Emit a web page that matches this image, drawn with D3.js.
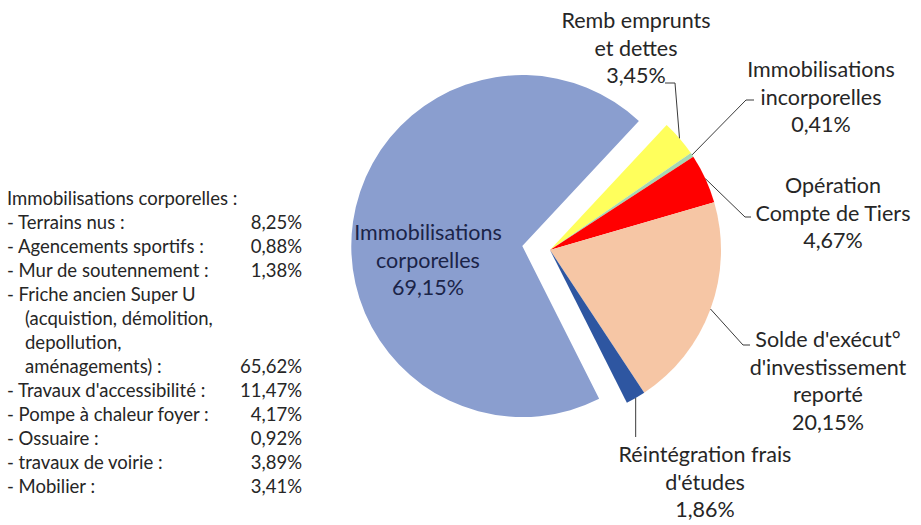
<!DOCTYPE html>
<html><head><meta charset="utf-8">
<script src="https://cdn.jsdelivr.net/npm/d3@7"></script>
<style>
html,body{margin:0;padding:0;background:#fff;}
svg{display:block;font-family:Lato,"Open Sans","DejaVu Sans",sans-serif;}
</style>
</head><body>
<svg id="chart" width="921" height="525"></svg>
<script>
// ---- data ----
const categories = ["Remb emprunts et dettes","Immobilisations incorporelles","Opération Compte de Tiers","Solde d'exécut° d'investissement reporté","Réintégration frais d'études","Immobilisations corporelles"];
const values = [3.45, 0.41, 4.67, 20.15, 1.86, 69.15];
const labelLines = [
  ["Remb emprunts","et dettes"],
  ["Immobilisations","incorporelles"],
  ["Opération","Compte de Tiers"],
  ["Solde d'exécut°","d'investissement","reporté"],
  ["Réintégration frais","d'études"],
  ["Immobilisations","corporelles"]
];
const colors = ["#FFFF5C","#A6D8B2","#FF0000","#F6C6A5","#2E56A1","#8A9ECF"];

const detailTitle = "Immobilisations corporelles :";
const detailLabels = ["- Terrains nus :","- Agencements sportifs :","- Mur de soutennement :","- Friche ancien Super U","(acquistion, démolition,","depollution,","aménagements) :","- Travaux d'accessibilité :","- Pompe à chaleur foyer :","- Ossuaire :","- travaux de voirie :","- Mobilier :"];
const detailValues = ["8,25%","0,88%","1,38%","","","","65,62%","11,47%","4,17%","0,92%","3,89%","3,41%"];
const detailIndent = [false,false,false,false,true,true,true,false,false,false,false,false];

// ---- layout ----
const cx = 550, cy = 250, R = 171, explode = 28;
const startDeg = 43;
const lineH = 27.5;
// label anchor (center x, first baseline y) and leader elbow
const labelPos = [
  {x:636, y:28,  elbow:[675,83],  tick:[665,83]},
  {x:821, y:77,  elbow:[746,100], tick:[754,100]},
  {x:833, y:193, elbow:[745,217], tick:[751,217]},
  {x:828, y:347, elbow:[743,345], tick:[750,345]},
  {x:705, y:462, elbow:null,      tick:null, endY:437},
  {x:428, y:240, inside:true}
];

const fmt = v => d3.format(".2f")(v).replace(".", ",") + "%";

const svg = d3.select("#chart");
const g = svg.append("g").attr("transform", `translate(${cx},${cy})`);

const start = startDeg * Math.PI / 180;
const pie = d3.pie().sort(null).startAngle(start).endAngle(start + 2*Math.PI);
const arcs = pie(values);
const arc = d3.arc().innerRadius(0).outerRadius(R);
const bigIndex = values.indexOf(d3.max(values));

g.selectAll("path.slice").data(arcs).join("path")
  .attr("class","slice")
  .attr("fill",(d,i)=>colors[i])
  .attr("d",arc)
  .attr("transform",(d,i)=>{
    if(i!==bigIndex) return null;
    const a = (d.startAngle+d.endAngle)/2;
    return `translate(${Math.sin(a)*explode},${-Math.cos(a)*explode})`;
  });

// leaders
const leaderG = svg.append("g").attr("fill","none").attr("stroke","#3a3a3a").attr("stroke-width",1);
arcs.forEach((d,i)=>{
  const L = labelPos[i];
  if(L.inside) return;
  const a = (d.startAngle+d.endAngle)/2;
  const px = cx + Math.sin(a)*R, py = cy - Math.cos(a)*R;
  let pts;
  if(L.elbow) pts = [[px,py], L.elbow, L.tick];
  else pts = [[px,py],[px,L.endY]];
  leaderG.append("path").attr("d", d3.line()(pts));
});

// labels
arcs.forEach((d,i)=>{
  const L = labelPos[i];
  const lines = labelLines[i].concat([fmt(values[i])]);
  const t = svg.append("text")
    .attr("text-anchor","middle")
    .attr("font-size",21.5)
    .attr("fill", L.inside ? "#1B2448" : "#262626");
  lines.forEach((s,k)=>{
    t.append("tspan").attr("x",L.x).attr("y",L.y + k*lineH).text(s);
  });
});

// detail text block
const dG = svg.append("g").attr("font-size",18.5).attr("fill","#262626");
const dx0 = 7, dIndent = 25, dRight = 302, dy0 = 205, dLine = 24;
dG.append("text").attr("x",dx0).attr("y",dy0).text(detailTitle);
detailLabels.forEach((s,i)=>{
  const y = dy0 + (i+1)*dLine;
  dG.append("text").attr("x", detailIndent[i] ? dIndent : dx0).attr("y",y).text(s);
  if(detailValues[i]) dG.append("text").attr("x",dRight).attr("y",y).attr("text-anchor","end").text(detailValues[i]);
});
</script>
</body></html>
